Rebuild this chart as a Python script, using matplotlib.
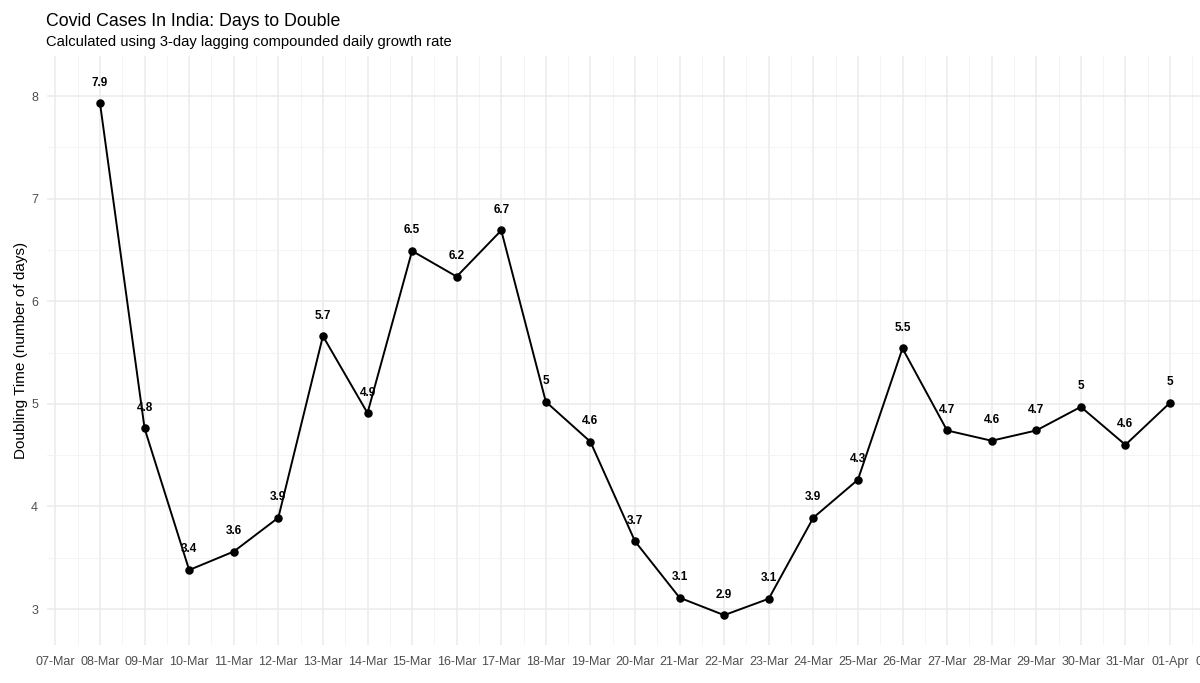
import numpy as np
import matplotlib
matplotlib.use("Agg")
import matplotlib.pyplot as plt
import matplotlib.dates as mdates
from matplotlib.ticker import MultipleLocator

# ---- data ----
dates = np.arange(np.datetime64("2020-03-08"), np.datetime64("2020-04-02"))
doubling_days = [7.93, 4.76, 3.38, 3.56, 3.89, 5.66, 4.91, 6.49, 6.24, 6.69,
                 5.02, 4.63, 3.66, 3.11, 2.94, 3.10, 3.89, 4.26, 5.54, 4.74,
                 4.64, 4.74, 4.97, 4.60, 5.01]
tick_dates = np.arange(np.datetime64("2020-03-07"), np.datetime64("2020-04-03"))

title = "Covid Cases In India: Days to Double"
subtitle = "Calculated using 3-day lagging compounded daily growth rate"
ylabel = "Doubling Time (number of days)"

plt.rcParams["font.family"] = ["Liberation Sans", "DejaVu Sans"]

W, H = 1200, 683
fig = plt.figure(figsize=(W / 100, H / 100), dpi=100)
fig.patch.set_facecolor("white")

left_px, right_px, top_px, bot_px = 46.5, 1223.5, 56, 645
ax = fig.add_axes([left_px / W, 1 - bot_px / H, (right_px - left_px) / W, (bot_px - top_px) / H])

x = dates.astype("datetime64[D]").astype(object)
xt = tick_dates.astype("datetime64[D]").astype(object)
xnum = mdates.date2num(x)

ax.plot(x, doubling_days, color="black", lw=1.4, zorder=3)
ax.scatter(x, doubling_days, s=26, color="black", zorder=4)
for xi, v in zip(x, doubling_days):
    ax.text(xi, v + 0.2, f"{round(v, 1):g}", ha="center", va="center",
            fontsize=8.5, fontweight="bold", color="black", zorder=5)

ax.set_xlim(xnum[0] - 1.2, xnum[-1] + 1.2)
ax.set_ylim(8 - (bot_px - 96) / 102.6, 8 + (96 - top_px) / 102.6)

ax.set_xticks(mdates.date2num(xt))
ax.xaxis.set_major_formatter(mdates.DateFormatter("%d-%b"))
ax.xaxis.set_minor_locator(MultipleLocator(0.5))
ax.yaxis.set_major_locator(MultipleLocator(1))
ax.yaxis.set_minor_locator(MultipleLocator(0.5))

ax.grid(which="major", color="#EBEBEB", lw=1.1)
ax.grid(which="minor", color="#F2F2F2", lw=0.6)
ax.set_axisbelow(True)
for s in ax.spines.values():
    s.set_visible(False)
ax.tick_params(which="both", length=0)
ax.tick_params(axis="x", labelsize=9, labelcolor="#4D4D4D", pad=8)
ax.tick_params(axis="y", labelsize=9, labelcolor="#4D4D4D", pad=6)

ax.set_ylabel(ylabel, fontsize=11, color="black", labelpad=2)

fig.text(left_px / W, 1 - 26 / H, title, fontsize=12.8, ha="left", va="baseline", color="black")
fig.text(left_px / W, 1 - 46 / H, subtitle, fontsize=10.6, ha="left", va="baseline", color="black")

fig.savefig("out.png", dpi=100)
